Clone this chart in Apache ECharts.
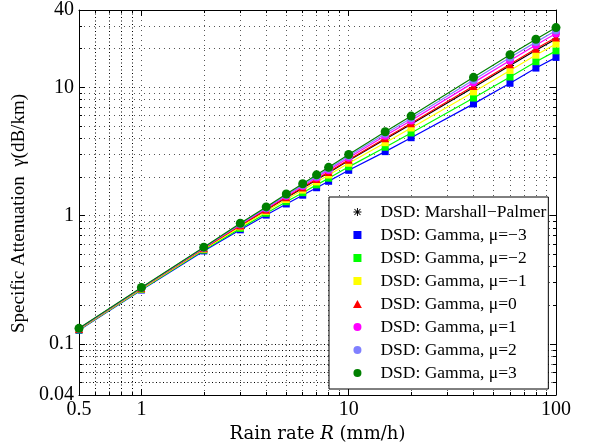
<!DOCTYPE html>
<html><head><meta charset="utf-8">
<script src="https://cdn.jsdelivr.net/npm/echarts@6/dist/echarts.min.js"></script>
<style>html,body{margin:0;padding:0;background:#fff}#c{width:590px;height:448px}</style>
</head><body><div id="c"></div>
<script>
// ---- data ----
const rainRate = [0.5, 1, 2, 3, 4, 5, 6, 7, 8, 10, 15, 20, 40, 60, 80, 100];
const marshallPalmer = [0.1306, 0.2705, 0.5535, 0.8334, 1.105, 1.376, 1.637, 1.904, 2.161, 2.686, 3.932, 5.144, 9.97, 14.75, 19.45, 23.81];
const gammaMuM3 = [0.1277, 0.2631, 0.5305, 0.7747, 1.009, 1.232, 1.442, 1.649, 1.851, 2.253, 3.151, 4.046, 7.42, 10.74, 14.11, 17.09];
const gammaMuM2 = [0.1287, 0.2658, 0.5386, 0.7950, 1.042, 1.282, 1.508, 1.735, 1.956, 2.398, 3.409, 4.406, 8.24, 12.02, 15.82, 19.22];
const gammaMuM1 = [0.1298, 0.2685, 0.5471, 0.8168, 1.078, 1.335, 1.581, 1.830, 2.072, 2.559, 3.700, 4.816, 9.20, 13.53, 17.81, 21.74];
const gammaMu0  = [0.1308, 0.2710, 0.5554, 0.8385, 1.113, 1.389, 1.654, 1.926, 2.189, 2.725, 4.003, 5.245, 10.21, 15.14, 19.96, 24.45];
const gammaMu1  = [0.1314, 0.2726, 0.5603, 0.8514, 1.134, 1.421, 1.699, 1.985, 2.261, 2.827, 4.193, 5.515, 10.87, 16.18, 21.35, 26.22];
const gammaMu2  = [0.1318, 0.2739, 0.5640, 0.8614, 1.151, 1.447, 1.735, 2.030, 2.318, 2.909, 4.345, 5.735, 11.40, 17.03, 22.48, 27.66];
const gammaMu3  = [0.1323, 0.2751, 0.5679, 0.8717, 1.168, 1.473, 1.771, 2.078, 2.377, 2.992, 4.503, 5.961, 11.95, 17.93, 23.68, 29.18];
const seriesNames = ['DSD: Marshall\u2212Palmer', 'DSD: Gamma, \u03bc=\u22123', 'DSD: Gamma, \u03bc=\u22122', 'DSD: Gamma, \u03bc=\u22121',
  'DSD: Gamma, \u03bc=0', 'DSD: Gamma, \u03bc=1', 'DSD: Gamma, \u03bc=2', 'DSD: Gamma, \u03bc=3'];
const xLabelTicks = [0.5, 1, 10, 100];
const xMajorTicks = [1, 10, 100];
const xMinorTicks = [0.6, 0.7, 0.8, 0.9, 2, 3, 4, 5, 6, 7, 8, 9, 20, 30, 40, 50, 60, 70, 80, 90];
const xDenseGrid = [0.6, 0.7, 0.8, 0.9];
const xLightGrid = [1, 2, 3, 4, 5, 6, 7, 8, 9, 10, 20, 30, 40, 50, 60, 70, 80, 90];
const yLabelTicks = [0.04, 0.1, 1, 10, 40];
const yMajorTicks = [0.1, 1, 10];
const yMinorTicks = [0.05, 0.06, 0.07, 0.08, 0.09, 0.2, 0.3, 0.4, 0.5, 0.6, 0.7, 0.8, 0.9, 2, 3, 4, 5, 6, 7, 8, 9, 20, 30];
const yDenseGrid = [0.05, 0.06, 0.07, 0.08, 0.09, 0.1];
const yLightGrid = [0.2, 0.3, 0.4, 0.5, 0.6, 0.7, 0.8, 0.9, 1, 2, 3, 4, 5, 6, 7, 8, 9, 10, 20, 30];

// ---- styles ----
const FONT = 'Liberation Serif';
const ASTERISK = 'path://M4.4,0H5.6V10H4.4Z M0,4.4H10V5.6H0Z M0.8,1.6L1.6,0.8L9.2,8.4L8.4,9.2Z M8.4,0.8L9.2,1.6L1.6,9.2L0.8,8.4Z';
const SQUARE = 'path://M0,0H10V10H0Z';
const TRI = 'path://M5,0L10,9H0Z';
const seriesData = [marshallPalmer, gammaMuM3, gammaMuM2, gammaMuM1, gammaMu0, gammaMu1, gammaMu2, gammaMu3];
const colors = ['#000000', '#0000ff', '#00ff00', '#ffff00', '#ff0000', '#ff00ff', '#8080ff', '#008000'];
const symbols = [ASTERISK, 'rect', 'rect', 'rect', 'triangle', 'circle', 'circle', 'circle'];
const legendIcons = [ASTERISK, SQUARE, SQUARE, SQUARE, TRI, 'circle', 'circle', 'circle'];
const sizes = [8, 7, 7, 7, 8, 8, 8, 9];
const fmt = v => String(+Number(v).toPrecision(6));
const grid = {left: 79, right: 34, top: 8, bottom: 53};
const lightDots = {color: '#555', width: 1, type: [1, 4]};
const denseDots = {color: '#000', width: 1, type: [1, 2.5]};

function axis(kind, pos, opts) {
  const isX = kind === 'x';
  return Object.assign({
    type: 'log', logBase: 10,
    min: isX ? 0.5 : 0.04, max: isX ? 100 : 40,
    position: pos,
    axisLine: {show: false, onZero: false},
    axisTick: {show: false},
    axisLabel: {show: false},
    splitLine: {show: false},
    minorTick: {show: false}, minorSplitLine: {show: false}
  }, opts);
}
const hiddenTicks = vals => ({show: true, inside: true, length: 0, customValues: vals, lineStyle: {color: 'rgba(0,0,0,0)'}});

const xAxes = [
  axis('x', 'bottom', {
    axisLine: {show: true, onZero: false, lineStyle: {color: '#000', width: 1}},
    axisTick: {show: true, inside: true, length: 6, customValues: xMajorTicks, lineStyle: {color: '#000'}},
    axisLabel: {show: true, customValues: xLabelTicks, formatter: fmt, color: '#000', fontFamily: FONT, fontSize: 20, margin: 5},
    name: '{n|Rain rate }{i|R}{n| (mm/h)}', nameLocation: 'middle', nameGap: 28,
    nameTextStyle: {rich: {n: {fontFamily: 'DejaVu Serif', fontSize: 18, color: '#000'}, i: {fontFamily: 'DejaVu Serif', fontSize: 18, fontStyle: 'italic', color: '#000'}}}
  }),
  axis('x', 'bottom', {
    axisTick: {show: true, inside: true, length: 3, customValues: xMinorTicks, lineStyle: {color: '#000'}}
  }),
  axis('x', 'top', {
    axisLine: {show: true, onZero: false, lineStyle: {color: '#000', width: 1}},
    axisTick: {show: true, inside: true, length: 6, customValues: xMajorTicks, lineStyle: {color: '#000'}}
  }),
  axis('x', 'top', {
    axisTick: {show: true, inside: true, length: 3, customValues: xMinorTicks, lineStyle: {color: '#000'}}
  }),
  axis('x', 'bottom', {axisTick: hiddenTicks(xLightGrid), splitLine: {show: true, lineStyle: lightDots}}),
  axis('x', 'bottom', {axisTick: hiddenTicks(xDenseGrid), splitLine: {show: true, lineStyle: denseDots}})
];
const yAxes = [
  axis('y', 'left', {
    axisLine: {show: true, onZero: false, lineStyle: {color: '#000', width: 1}},
    axisTick: {show: true, inside: true, length: 6, customValues: yMajorTicks, lineStyle: {color: '#000'}},
    axisLabel: {show: true, customValues: yLabelTicks, formatter: fmt, color: '#000', fontFamily: FONT, fontSize: 20, margin: 5},
    name: 'Specific Attenuation  \u03b3(dB/km)', nameLocation: 'middle', nameGap: 44,
    nameTextStyle: {fontFamily: FONT, fontSize: 19, color: '#000', padding: [0, 22, 0, 0]}
  }),
  axis('y', 'left', {
    axisTick: {show: true, inside: true, length: 3, customValues: yMinorTicks, lineStyle: {color: '#000'}}
  }),
  axis('y', 'right', {
    axisLine: {show: true, onZero: false, lineStyle: {color: '#000', width: 1}},
    axisTick: {show: true, inside: true, length: 6, customValues: yMajorTicks, lineStyle: {color: '#000'}}
  }),
  axis('y', 'right', {
    axisTick: {show: true, inside: true, length: 3, customValues: yMinorTicks, lineStyle: {color: '#000'}}
  }),
  axis('y', 'left', {axisTick: hiddenTicks(yLightGrid), splitLine: {show: true, lineStyle: lightDots}}),
  axis('y', 'left', {axisTick: hiddenTicks(yDenseGrid), splitLine: {show: true, lineStyle: denseDots}})
];

const series = seriesNames.map((name, i) => ({
  name: name, type: 'line', xAxisIndex: 0, yAxisIndex: 0,
  data: rainRate.map((r, j) => [r, seriesData[i][j]]),
  symbol: symbols[i], symbolSize: sizes[i], showAllSymbol: true,
  lineStyle: {color: colors[i], width: 1.2},
  itemStyle: {color: colors[i], borderWidth: 0},
  emphasis: {disabled: true}, animation: false, z: 2 + i
}));

const chart = echarts.init(document.getElementById('c'), null, {renderer: 'canvas'});
chart.setOption({
  backgroundColor: '#fff',
  animation: false,
  grid: grid,
  xAxis: xAxes,
  yAxis: yAxes,
  legend: {
    orient: 'vertical', left: 329, top: 197,
    padding: [6, 2, 7, 24], itemGap: 5, itemWidth: 36, itemHeight: 8,
    symbolKeepAspect: true,
    backgroundColor: '#fff', borderColor: '#000', borderWidth: 1, borderRadius: 0,
    textStyle: {fontFamily: FONT, fontSize: 17.5, color: '#000'},
    selectedMode: false,
    data: seriesNames.map((n, i) => ({name: n, icon: legendIcons[i]}))
  },
  series: series
});
</script></body></html>
